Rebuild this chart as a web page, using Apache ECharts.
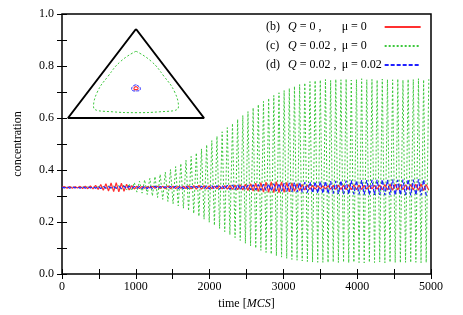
<!DOCTYPE html>
<html>
<head>
<meta charset="utf-8">
<script src="https://cdn.jsdelivr.net/npm/echarts@6/dist/echarts.min.js"></script>
<style>
  html, body { margin: 0; padding: 0; background: #fff; }
  #chart { width: 463px; height: 315px; }
</style>
</head>
<body>
<div id="chart"></div>
<script>
// sampling step of the time series (MCS)
const timeStep = 35;

// (b) Q = 0, mu = 0
const concB = [
  0.333,0.336,0.330,0.337,0.330,0.336,0.331,0.337,0.329,0.338,0.328,0.339,0.327,0.341,0.325,
  0.344,0.322,0.347,0.319,0.350,0.317,0.351,0.316,
  0.349,0.318,0.345,0.323,0.340,0.327,
  0.338,0.329,0.337,0.330,0.336,0.331,
  0.337,0.330,0.338,0.329,0.338,0.328,0.339,0.328,
  0.338,0.329,0.337,0.330,0.338,0.329,0.339,0.327,
  0.340,0.326,0.341,0.326,0.340,0.327,0.339,
  0.328,0.338,0.328,0.339,0.327,0.340,0.326,
  0.341,0.325,0.342,0.324,0.343,0.323,0.345,
  0.321,0.347,0.319,0.349,0.317,0.351,0.315,
  0.353,0.314,0.354,0.313,0.355,0.313,0.354,
  0.314,0.352,0.316,0.350,0.318,0.347,0.321,
  0.344,0.323,0.342,0.325,0.341,0.326,0.340,
  0.327,0.339,0.327,0.340,0.326,0.341,0.325,
  0.342,0.325,0.342,0.324,0.343,0.324,0.343,
  0.324,0.342,0.325,0.341,0.326,0.340,0.327,
  0.341,0.326,0.342,0.324,0.344,0.323,0.345,
  0.322,0.345,0.323,0.344,0.324,0.343,0.325,
  0.344,0.323,0.345,0.322,0.346,0.321,0.344,0.322
];

// (c) Q = 0.02, mu = 0
const concC = [
  0.333,0.334,0.333,0.333,0.334,0.333,0.334,0.332,0.334,0.333,0.335,0.332,0.335,0.332,0.336,
  0.331,0.337,0.330,0.338,0.329,0.339,0.328,0.341,
  0.326,0.344,0.323,0.347,0.320,0.352,
  0.315,0.357,0.311,0.362,0.306,0.368,
  0.300,0.375,0.294,0.383,0.287,0.392,0.279,0.402,
  0.270,0.413,0.262,0.425,0.253,0.438,0.243,0.452,
  0.233,0.466,0.222,0.481,0.211,0.497,0.199,
  0.513,0.187,0.530,0.175,0.547,0.163,0.563,
  0.151,0.579,0.140,0.595,0.129,0.610,0.118,
  0.625,0.108,0.639,0.099,0.652,0.091,0.664,
  0.083,0.676,0.076,0.687,0.070,0.697,0.065,
  0.706,0.060,0.714,0.056,0.722,0.053,0.729,
  0.050,0.735,0.048,0.740,0.046,0.744,0.045,
  0.746,0.045,0.748,0.044,0.745,0.046,0.749,
  0.044,0.747,0.045,0.750,0.043,0.746,0.045,
  0.748,0.044,0.751,0.043,0.747,0.045,0.749,
  0.044,0.746,0.046,0.750,0.043,0.748,0.045,
  0.747,0.044,0.750,0.043,0.746,0.045,0.749,
  0.044,0.748,0.045,0.751,0.043,0.747,0.044,0.749
];

// (d) Q = 0.02, mu = 0.02
const concD = [
  0.333,0.331,0.336,0.330,0.336,0.331,0.335,0.330,0.337,0.330,0.336,0.331,0.336,0.330,0.337,
  0.329,0.337,0.330,0.336,0.331,0.336,0.330,0.337,
  0.329,0.338,0.328,0.338,0.329,0.337,
  0.330,0.337,0.329,0.338,0.328,0.339,
  0.328,0.338,0.329,0.337,0.330,0.336,0.330,0.337,
  0.329,0.338,0.328,0.339,0.328,0.338,0.329,0.337,
  0.330,0.337,0.329,0.338,0.328,0.339,0.327,
  0.340,0.327,0.340,0.326,0.341,0.326,0.341,
  0.325,0.342,0.324,0.343,0.324,0.342,0.325,
  0.342,0.324,0.343,0.323,0.344,0.322,0.345,
  0.321,0.346,0.320,0.347,0.319,0.348,0.318,
  0.349,0.317,0.350,0.316,0.351,0.315,0.352,
  0.314,0.353,0.313,0.354,0.312,0.355,0.311,
  0.356,0.310,0.357,0.309,0.357,0.309,0.358,
  0.308,0.359,0.307,0.359,0.307,0.360,0.306,
  0.360,0.306,0.361,0.305,0.361,0.305,0.362,
  0.304,0.362,0.304,0.363,0.303,0.362,0.304,
  0.363,0.303,0.362,0.304,0.363,0.303,0.364,
  0.302,0.363,0.303,0.364,0.302,0.363,0.303,0.301
];

// legend texts
const legendTags = ['b', 'c', 'd'];
const legendQ = ['0', '0.02', '0.02'];
const legendMu = ['0', '0', '0.02'];

// inset: simplex, concentrations (top, left, right)
const simplexCorners = [[1, 0, 0], [0, 1, 0], [0, 0, 1], [1, 0, 0]];
const cycleC = [
  [0.75, 0.125, 0.125], [0.64, 0.29, 0.07], [0.47, 0.47, 0.06], [0.29, 0.64, 0.07],
  [0.125, 0.75, 0.125], [0.07, 0.64, 0.29], [0.06, 0.47, 0.47], [0.07, 0.29, 0.64],
  [0.125, 0.125, 0.75], [0.29, 0.07, 0.64], [0.47, 0.06, 0.47], [0.64, 0.07, 0.29],
  [0.75, 0.125, 0.125]
];
const orbitB = [
  [0.353, 0.323, 0.323], [0.346, 0.337, 0.317], [0.330, 0.350, 0.320], [0.318, 0.348, 0.334],
  [0.320, 0.330, 0.350], [0.334, 0.318, 0.348], [0.350, 0.320, 0.330], [0.353, 0.323, 0.323]
];
const orbitD = [
  [0.373, 0.313, 0.313], [0.360, 0.340, 0.300], [0.328, 0.368, 0.304], [0.304, 0.364, 0.332],
  [0.306, 0.326, 0.368], [0.332, 0.302, 0.366], [0.364, 0.306, 0.330], [0.373, 0.313, 0.313]
];

const serif = '"Liberation Serif", "DejaVu Serif", serif';
const fs = 12;

// pair each sample with its time
const toSeries = vals => vals.map((v, i) => [i * timeStep, v]);
// barycentric -> plane of the inset grid
const toPlane = pts => pts.map(([t, l, r]) => [r + 0.5 * t, t]);

const chart = echarts.init(document.getElementById('chart'));

const tickStyle = { show: true, inside: true, length: 5, lineStyle: { color: '#000', width: 1 } };
const txt = extra => Object.assign({ fontFamily: serif, fontSize: fs, color: '#000', align: 'left' }, extra);

const option = {
  animation: false,
  backgroundColor: '#fff',
  grid: [
    { left: 62, right: 32, top: 14, bottom: 41, show: true, borderColor: '#000', borderWidth: 1.5 },
    { left: 68, top: 29, width: 136, height: 89 }
  ],
  legend: {
    orient: 'vertical',
    left: 261,
    top: 16,
    itemWidth: 36,
    itemHeight: 12,
    itemGap: 7,
    align: 'right',
    data: legendTags,
    itemStyle: { opacity: 0 },
    textStyle: {
      fontFamily: serif,
      fontSize: fs,
      color: '#000',
      rich: {
        tag: txt({ width: 22 }),
        q: txt({ fontStyle: 'italic' }),
        qv: txt({ width: 45 }),
        mu: txt({ width: 38 })
      }
    },
    formatter: name => {
      const i = legendTags.indexOf(name);
      return `{tag|(${name})}{q|Q}{qv| = ${legendQ[i]} ,}{mu|μ = ${legendMu[i]}}`;
    }
  },
  xAxis: [
    {
      gridIndex: 0, type: 'value', min: 0, max: 5000, interval: 500,
      name: '{n|time [}{i|MCS}{n|]}',
      nameLocation: 'middle', nameGap: 21,
      nameTextStyle: {
        rich: {
          n: txt({}),
          i: txt({ fontStyle: 'italic' })
        }
      },
      axisLine: { show: false },
      axisTick: tickStyle,
      splitLine: { show: false },
      axisLabel: {
        fontFamily: serif, fontSize: fs, color: '#000', margin: 7,
        formatter: v => (v % 1000 === 0 ? String(v) : '')
      }
    },
    {
      gridIndex: 0, type: 'value', min: 0, max: 5000, interval: 500, position: 'top',
      axisLine: { show: false }, axisTick: tickStyle, axisLabel: { show: false }, splitLine: { show: false }
    },
    { gridIndex: 1, type: 'value', min: 0, max: 1, show: false }
  ],
  yAxis: [
    {
      gridIndex: 0, type: 'value', min: 0, max: 1, interval: 0.1,
      name: 'concentration',
      nameLocation: 'middle', nameGap: 38,
      nameTextStyle: { fontFamily: serif, fontSize: fs, color: '#000' },
      axisLine: { show: false },
      axisTick: tickStyle,
      splitLine: { show: false },
      axisLabel: {
        fontFamily: serif, fontSize: fs, color: '#000', margin: 8,
        formatter: v => (Math.round(v * 10) % 2 === 0 ? v.toFixed(1) : '')
      }
    },
    {
      gridIndex: 0, type: 'value', min: 0, max: 1, interval: 0.1, position: 'right',
      axisLine: { show: false }, axisTick: tickStyle, axisLabel: { show: false }, splitLine: { show: false }
    },
    { gridIndex: 1, type: 'value', min: 0, max: 1, show: false }
  ],
  series: [
    {
      name: 'c', type: 'line', xAxisIndex: 0, yAxisIndex: 0, symbol: 'none', z: 2,
      data: toSeries(concC),
      lineStyle: { color: '#3cc83c', width: 1, type: [2, 2] },
      itemStyle: { color: '#3cc83c' }
    },
    {
      name: 'b', type: 'line', xAxisIndex: 0, yAxisIndex: 0, symbol: 'none', z: 3,
      data: toSeries(concB),
      lineStyle: { color: '#ff3030', width: 1.2 },
      itemStyle: { color: '#ff3030' }
    },
    {
      name: 'd', type: 'line', xAxisIndex: 0, yAxisIndex: 0, symbol: 'none', z: 4,
      data: toSeries(concD),
      lineStyle: { color: '#2020ff', width: 1.2, type: [4, 2] },
      itemStyle: { color: '#2020ff' }
    },
    {
      name: 'simplex', type: 'line', xAxisIndex: 2, yAxisIndex: 2, symbol: 'none', z: 5,
      data: toPlane(simplexCorners),
      lineStyle: { color: '#000', width: 2 }
    },
    {
      name: 'c-inset', type: 'line', xAxisIndex: 2, yAxisIndex: 2, symbol: 'none', smooth: 0.5, z: 5,
      data: toPlane(cycleC),
      lineStyle: { color: '#3cc83c', width: 1, type: [2, 2] }
    },
    {
      name: 'd-inset', type: 'line', xAxisIndex: 2, yAxisIndex: 2, symbol: 'none', smooth: 0.5, z: 5,
      data: toPlane(orbitD),
      lineStyle: { color: '#2020ff', width: 1, type: [3, 1] }
    },
    {
      name: 'b-inset', type: 'line', xAxisIndex: 2, yAxisIndex: 2, symbol: 'none', smooth: 0.5, z: 6,
      data: toPlane(orbitB),
      lineStyle: { color: '#ff3030', width: 1.2 }
    }
  ]
};

chart.setOption(option);
</script>
</body>
</html>
